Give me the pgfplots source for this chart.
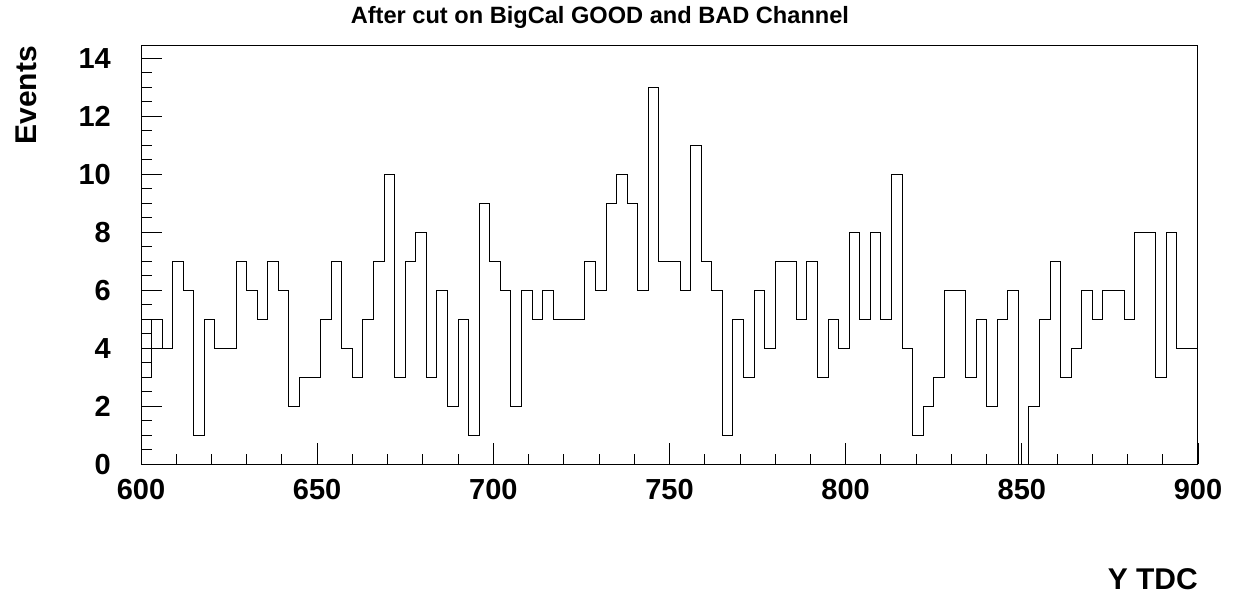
\documentclass[border=0pt]{standalone}
\usepackage{fontspec}
\setmainfont{Liberation Sans}
\usepackage{pgfplots}
\pgfplotsset{compat=1.18}
\usepackage{pgfplotstable}
\pgfplotstableread{
x y
600 3
603 5
606 4
609 7
612 6
615 1
618 5
621 4
624 4
627 7
630 6
633 5
636 7
639 6
642 2
645 3
648 3
651 5
654 7
657 4
660 3
663 5
666 7
669 10
672 3
675 7
678 8
681 3
684 6
687 2
690 5
693 1
696 9
699 7
702 6
705 2
708 6
711 5
714 6
717 5
720 5
723 5
726 7
729 6
732 9
735 10
738 9
741 6
744 13
747 7
750 7
753 6
756 11
759 7
762 6
765 1
768 5
771 3
774 6
777 4
780 7
783 7
786 5
789 7
792 3
795 5
798 4
801 8
804 5
807 8
810 5
813 10
816 4
819 1
822 2
825 3
828 6
831 6
834 3
837 5
840 2
843 5
846 6
849 0
852 2
855 5
858 7
861 3
864 4
867 6
870 5
873 6
876 6
879 5
882 8
885 8
888 3
891 8
894 4
897 4
900 4
}\histdata
\begin{document}
\begin{tikzpicture}
\useasboundingbox (0pt,0pt) rectangle (1237pt,596pt);
\begin{axis}[
  at={(141pt,131.7pt)}, anchor=south west,
  scale only axis,
  width=1057pt, height=418.3pt,
  xmin=600, xmax=900, ymin=0, ymax=14.42,
  xtick distance=50, minor x tick num=4,
  ytick distance=2, minor y tick num=3,
  tick pos=left, tick align=inside,
  major tick length=21pt, minor tick length=10.5pt,
  every tick/.style={black, line width=0.9pt},
  axis line style={black, line width=1pt},
  /pgf/number format/assume math mode=true,
  ticklabel style={font=\fontsize{29}{29}\selectfont\bfseries},
  xticklabel style={inner sep=0pt, anchor=north, yshift=-15pt},
  yticklabel style={inner sep=0pt, anchor=east, xshift=-30pt},
  title={After cut on BigCal GOOD and BAD Channel},
  title style={font=\fontsize{23.6}{24}\selectfont\bfseries, at={(axis description cs:0.4342,1)}, anchor=base, yshift=16pt, inner sep=0pt},
  xlabel={Y TDC},
  xlabel style={font=\fontsize{30}{30}\selectfont\bfseries, at={(axis description cs:1,0)}, anchor=base east, yshift=-125.7pt, inner sep=0pt},
  ylabel={Events},
  ylabel style={font=\fontsize{30}{30}\selectfont\bfseries, at={(axis description cs:-0.0993,1)}, anchor=base east, rotate=0, inner sep=0pt},
]
\addplot[const plot, black, line width=1pt] table[x=x, y=y] {\histdata};
\end{axis}
\end{tikzpicture}
\end{document}
